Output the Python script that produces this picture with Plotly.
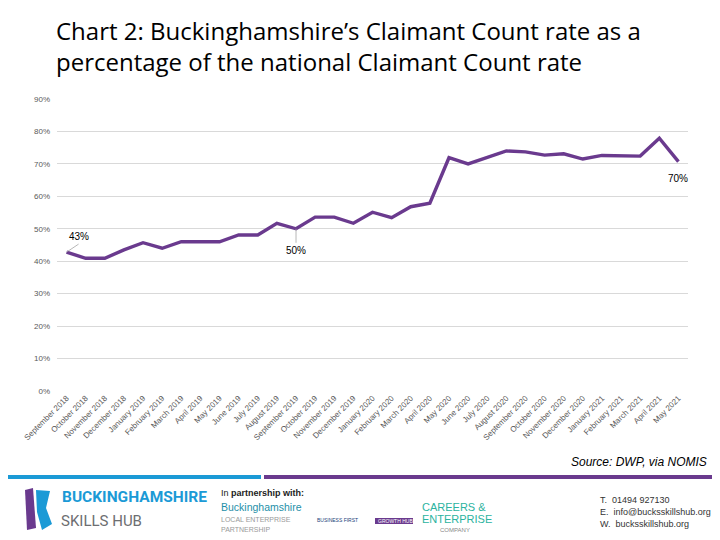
import plotly.graph_objects as go

months = ["September 2018", "October 2018", "November 2018", "December 2018",
          "January 2019", "February 2019", "March 2019", "April 2019", "May 2019",
          "June 2019", "July 2019", "August 2019", "September 2019", "October 2019",
          "November 2019", "December 2019", "January 2020", "February 2020",
          "March 2020", "April 2020", "May 2020", "June 2020", "July 2020",
          "August 2020", "September 2020", "October 2020", "November 2020",
          "December 2020", "January 2021", "February 2021", "March 2021",
          "April 2021", "May 2021"]
rate = [42.8, 40.9, 40.9, 43.5, 45.7, 44.0, 46.0, 46.0, 46.0, 48.1, 48.1, 51.7,
        50.0, 53.6, 53.6, 51.7, 55.1, 53.4, 56.8, 57.9, 71.9, 70.0, 72.0, 74.0,
        73.7, 72.7, 73.1, 71.5, 72.6, 72.4, 72.4, 77.9, 70.7]
y_ticks = [0, 10, 20, 30, 40, 50, 60, 70, 80, 90]
y_tick_text = [f"{v}%" for v in y_ticks]

PURPLE = "#6a3a8e"
BLUE = "#1b9ad6"
OFF = 8  # page body margin offset

fig = go.Figure()
fig.add_trace(go.Scatter(x=months, y=rate, mode="lines",
                         line=dict(color=PURPLE, width=3.4),
                         hoverinfo="skip", showlegend=False))

# data labels with leader lines
fig.add_annotation(x=months[0], y=rate[0], text="43%", showarrow=True,
                   arrowhead=0, arrowwidth=0.8, arrowcolor="#a6a6a6",
                   ax=12, ay=-8, xanchor="center", yanchor="bottom",
                   font=dict(family="Liberation Sans", size=10, color="#000"))
fig.add_annotation(x=months[12], y=rate[12], text="50%", showarrow=True,
                   arrowhead=0, arrowwidth=0.8, arrowcolor="#a6a6a6",
                   ax=0, ay=14, yanchor="top",
                   font=dict(family="Liberation Sans", size=10, color="#000"))
fig.add_annotation(x=months[32], y=rate[32], text="70%", showarrow=False,
                   yshift=-9, xshift=0, yanchor="top",
                   font=dict(family="Liberation Sans", size=10, color="#000"))

fig.update_layout(
    width=720, height=540,
    margin=dict(l=57 - OFF, r=32 + OFF, t=99 - OFF, b=149 + OFF, pad=0),
    paper_bgcolor="white", plot_bgcolor="white",
    font=dict(family="Liberation Sans", color="#595959"),
    xaxis=dict(type="category", tickangle=-45, showgrid=False, zeroline=False,
               showline=False, ticks="", tickfont=dict(size=8, color="#595959"),
               range=[-0.5, 32.5], fixedrange=True, automargin=False),
    yaxis=dict(range=[0, 90], tickvals=y_ticks, ticktext=y_tick_text,
               showgrid=True, gridcolor="#d9d9d9", gridwidth=1, zeroline=False,
               showline=False, ticks="", tickfont=dict(size=8, color="#595959"),
               ticklabelstandoff=6, fixedrange=True, automargin=False),
    showlegend=False,
)

# Title
fig.add_annotation(xref="paper", yref="paper", x=-0.004, y=1.0, yshift=87,
                   xanchor="left", yanchor="top", align="left", showarrow=False,
                   text="Chart 2: Buckinghamshire’s Claimant Count rate as a<br>percentage of the national Claimant Count rate",
                   font=dict(family="Open Sans", size=24, color="#000"))

# Source
fig.add_annotation(xref="paper", yref="paper", x=1.033, y=0, yshift=-62,
                   xanchor="right", yanchor="top", showarrow=False,
                   text="<i>Source: DWP, via NOMIS</i>",
                   font=dict(family="Liberation Sans", size=12, color="#000"))

def px(xp):
    return (xp - 57) / 631

def py(yp):
    return (391 - yp) / 292

# footer bars
fig.add_shape(type="line", xref="paper", yref="paper",
              x0=px(0), x1=px(261), y0=py(477), y1=py(477),
              line=dict(color=BLUE, width=4))
fig.add_shape(type="line", xref="paper", yref="paper",
              x0=px(264), x1=px(720), y0=py(477), y1=py(477),
              line=dict(color=PURPLE, width=4))

# logo mark
fig.add_shape(type="path", xref="paper", yref="paper",
              path=f"M {px(25)} {py(490)} L {px(33)} {py(488)} L {px(36)} {py(528)} L {px(27)} {py(530)} Z",
              fillcolor=PURPLE, line=dict(width=0))
fig.add_shape(type="path", xref="paper", yref="paper",
              path=f"M {px(36)} {py(490)} L {px(50)} {py(491)} L {px(46)} {py(508)} L {px(52)} {py(524)} L {px(42)} {py(530)} L {px(37)} {py(512)} Z",
              fillcolor=BLUE, line=dict(width=0))

def txt(x, y, s, size, color, family="Liberation Sans", anchor="left"):
    fig.add_annotation(xref="paper", yref="paper", x=px(x), y=py(y), text=s,
                       showarrow=False, xanchor=anchor, yanchor="middle",
                       font=dict(family=family, size=size, color=color))

txt(60, 497, "<b>BUCKINGHAMSHIRE</b>", 15.5, BLUE, "Roboto")
txt(59, 521, "SKILLS HUB", 15, "#6d6e71", "Roboto")
txt(219, 493, "In <b>partnership with:</b>", 9, "#222")
txt(219, 507, "Buckinghamshire", 10.5, "#1e8fa8")
txt(219, 519, "LOCAL ENTERPRISE", 7, "#9a9a9a")
txt(219, 529, "PARTNERSHIP", 7, "#9a9a9a")
txt(315, 520, "BUSINESS FIRST", 5, "#1b3f7a")
fig.add_shape(type="rect", xref="paper", yref="paper",
              x0=px(375), x1=px(413), y0=py(518), y1=py(524),
              fillcolor=PURPLE, line=dict(width=0), layer="below")
txt(376, 521, "GROWTH HUB", 5, "#ffffff")
txt(420, 507, "CAREERS &", 11, "#2bb3a0")
txt(420, 519, "ENTERPRISE", 11, "#2bb3a0")
txt(438, 530, "COMPANY", 6, "#888")
txt(598, 500, "T.  01494 927130", 9, "#333")
txt(598, 512, "E.  info@bucksskillshub.org", 9, "#333")
txt(598, 524, "W.  bucksskillshub.org", 9, "#333")

fig.write_html("out.html")
